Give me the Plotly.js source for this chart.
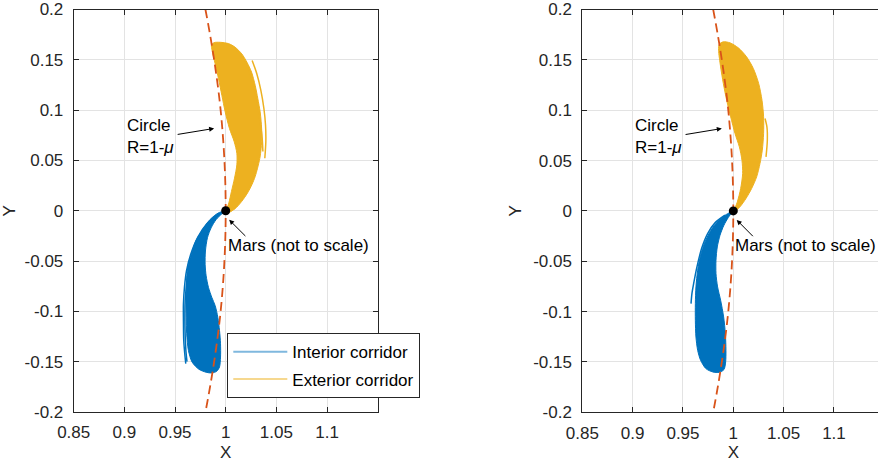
<!DOCTYPE html>
<html>
<head>
<meta charset="utf-8">
<script src="https://cdn.plot.ly/plotly-3.0.1.min.js"></script>
<style>
html, body { margin:0; padding:0; width:878px; height:467px; overflow:hidden; background:#fff; }
#plot { width:885px; height:467px; }
</style>
</head>
<body>
<div id="plot"></div>
<script>
// ---------- data ----------
// Left panel: interior corridor (blue) envelope
const intBodyX1 = [1.0004,0.9929,0.9846,0.9774,0.9705,0.9660,0.9625,0.9612,0.9608,0.9610,0.9615,0.9632,0.9668,0.9735,0.9807,0.9863,0.9912,0.9939,0.9949,0.9949,0.9939,0.9922,0.9896,0.9863,0.9830,0.9807,0.9797,0.9800,0.9820,0.9856,0.9906,0.9962,1.0004];
const intBodyY1 = [0.0002,-0.0021,-0.0087,-0.0186,-0.0301,-0.0433,-0.0565,-0.0729,-0.0894,-0.1058,-0.1223,-0.1388,-0.1503,-0.1575,-0.1605,-0.1612,-0.1595,-0.1552,-0.1454,-0.1322,-0.1190,-0.1058,-0.0943,-0.0861,-0.0762,-0.0647,-0.0532,-0.0400,-0.0268,-0.0170,-0.0087,-0.0031,0.0002];
// Left panel: interior stray trajectories
const intStrayX1 = [0.9912,0.9814,0.9725,0.9655,0.9613,0.9593,0.9583,0.9583,0.9586,0.9596,0.9606,null,0.9623,0.9600,0.9598,0.9607,0.9618];
const intStrayY1 = [-0.0044,-0.0130,-0.0262,-0.0433,-0.0598,-0.0762,-0.0927,-0.1091,-0.1289,-0.1421,-0.1519,null,-0.0650,-0.0894,-0.1157,-0.1388,-0.1500];
// Left panel: exterior corridor (yellow) envelope
const extBodyX1 = [1.0011,1.0093,1.0159,1.0215,1.0258,1.0291,1.0314,1.0337,1.0350,1.0357,1.0350,1.0340,1.0317,1.0291,1.0255,1.0209,1.0159,1.0093,1.0028,0.9945,0.9886,0.9860,0.9866,0.9896,0.9929,0.9962,0.9995,1.0037,1.0084,1.0110,1.0110,1.0087,1.0057,1.0031,1.0005,1.0011];
const extBodyY1 = [-0.0025,0.0021,0.0094,0.0176,0.0258,0.0341,0.0423,0.0522,0.0621,0.0752,0.0884,0.0983,0.1114,0.1246,0.1378,0.1477,0.1559,0.1625,0.1661,0.1674,0.1671,0.1648,0.1592,0.1460,0.1312,0.1147,0.0983,0.0818,0.0686,0.0571,0.0456,0.0324,0.0193,0.0077,-0.0005,-0.0025];
// Left panel: exterior stray trajectories
const extStrayX1 = [1.0192,1.0242,1.0284,1.0317,1.0340,1.0360,1.0367,null,1.0261,1.0307,1.0347,1.0377,1.0393,1.0396,1.0386];
const extStrayY1 = [0.1483,0.1361,0.1213,0.1049,0.0884,0.0719,0.0588,null,0.1493,0.1361,0.1197,0.1016,0.0851,0.0686,0.0522];

// Right panel: interior corridor envelope
const intBodyX2 = [1.0000,0.9934,0.9851,0.9778,0.9719,0.9675,0.9646,0.9629,0.9623,0.9623,0.9629,0.9646,0.9675,0.9728,0.9795,0.9861,0.9907,0.9924,0.9927,0.9921,0.9904,0.9874,0.9844,0.9828,0.9828,0.9841,0.9868,0.9907,0.9950,0.9983,1.0000];
const intBodyY2 = [0.0000,-0.0033,-0.0099,-0.0192,-0.0308,-0.0440,-0.0589,-0.0755,-0.0921,-0.1086,-0.1252,-0.1384,-0.1483,-0.1566,-0.1599,-0.1603,-0.1576,-0.1500,-0.1384,-0.1219,-0.1053,-0.0887,-0.0755,-0.0623,-0.0490,-0.0358,-0.0242,-0.0142,-0.0066,-0.0020,0.0000];
const intStrayX2 = [0.9917,0.9818,0.9745,0.9685,0.9639,0.9606,0.9589,0.9580];
const intStrayY2 = [-0.0043,-0.0119,-0.0225,-0.0374,-0.0556,-0.0722,-0.0821,-0.0921];
// Right panel: exterior corridor envelope
const extBodyX2 = [1.0007,1.0066,1.0126,1.0182,1.0232,1.0265,1.0288,1.0301,1.0301,1.0285,1.0252,1.0199,1.0132,1.0050,0.9967,0.9901,0.9861,0.9854,0.9874,0.9901,0.9934,0.9974,1.0017,1.0060,1.0086,1.0093,1.0073,1.0040,1.0007,1.0007];
const extBodyY2 = [-0.0017,0.0040,0.0123,0.0222,0.0338,0.0470,0.0603,0.0768,0.0934,0.1099,0.1265,0.1414,0.1530,0.1619,0.1669,0.1679,0.1656,0.1596,0.1430,0.1265,0.1099,0.0934,0.0768,0.0636,0.0503,0.0371,0.0222,0.0089,0.0000,-0.0017];
const extStrayX2 = [1.0315,1.0334,1.0338,1.0325];
const extStrayY2 = [0.0917,0.0834,0.0702,0.0536];

// Circle R = 1 - mu
const circleX = [0.968,0.980,0.995,1.000,0.995,0.980,0.968];
const circleY = [-0.25,-0.20,-0.10,0.00,0.10,0.20,0.25];
// Mars
const marsX = [1];
const marsY = [0];

// Axis ticks
const xTickVals = [0.85,0.9,0.95,1,1.05,1.1];
const xTickText = ['0.85','0.9','0.95','1','1.05','1.1'];
const yTickVals = [-0.2,-0.15,-0.1,-0.05,0,0.05,0.1,0.15,0.2];
const yTickText = ['-0.2','-0.15','-0.1','-0.05','0','0.05','0.1','0.15','0.2'];

// Legend labels
const seriesNames = ['Interior corridor','Exterior corridor'];

// Annotation anchors (data coords)
const circleLabel = {x:0.9024, y:0.0736, text:'Circle<br>R=1-<i>μ</i>'};
const circleArrow = {x:0.9886, y:0.0818, ax:0.9511, ay:0.0756};
const marsLabel = {x:1.0031, y:-0.0341, text:'Mars (not to scale)'};
const marsArrow = {x:1.0034, y:-0.0090, ax:1.0209, ay:-0.0266};

// ---------- styling ----------
const BLUE = '#0072BD', YELLOW = '#EDB120', RED = '#D95319';
const FONT = 'Liberation Sans, Arial, Helvetica, sans-serif';
const W = 885, H = 467;

function panel(xa, ya, ib, ibY, is, isY, eb, ebY, es, esY) {
  return [
    {x:ib, y:ibY, xaxis:xa, yaxis:ya, type:'scatter', mode:'lines', fill:'toself', fillcolor:BLUE,
     line:{color:BLUE, width:1, shape:'spline', smoothing:0.8}, showlegend:false, hoverinfo:'skip'},
    {x:is, y:isY, xaxis:xa, yaxis:ya, type:'scatter', mode:'lines',
     line:{color:BLUE, width:1.5, shape:'spline', smoothing:0.8}, showlegend:false, hoverinfo:'skip'},
    {x:eb, y:ebY, xaxis:xa, yaxis:ya, type:'scatter', mode:'lines', fill:'toself', fillcolor:YELLOW,
     line:{color:YELLOW, width:1, shape:'spline', smoothing:0.8}, showlegend:false, hoverinfo:'skip'},
    {x:es, y:esY, xaxis:xa, yaxis:ya, type:'scatter', mode:'lines',
     line:{color:YELLOW, width:1.5, shape:'spline', smoothing:0.8}, showlegend:false, hoverinfo:'skip'},
    {x:circleX, y:circleY, xaxis:xa, yaxis:ya, type:'scatter', mode:'lines',
     line:{color:RED, width:1.8, dash:'9px,5px', shape:'spline'}, showlegend:false, hoverinfo:'skip'},
    {x:marsX, y:marsY, xaxis:xa, yaxis:ya, type:'scatter', mode:'markers',
     marker:{color:'#000', size:9}, showlegend:false, hoverinfo:'skip'}
  ];
}

const data = [].concat(
  panel('x','y', intBodyX1,intBodyY1, intStrayX1,intStrayY1, extBodyX1,extBodyY1, extStrayX1,extStrayY1),
  panel('x2','y2', intBodyX2,intBodyY2, intStrayX2,intStrayY2, extBodyX2,extBodyY2, extStrayX2,extStrayY2),
  [
    {x:[null], y:[null], xaxis:'x', yaxis:'y', type:'scatter', mode:'lines', name:seriesNames[0],
     line:{color:'rgba(0,114,189,0.5)', width:2}, legendgroup:'a'},
    {x:[null], y:[null], xaxis:'x', yaxis:'y', type:'scatter', mode:'lines', name:seriesNames[1],
     line:{color:'rgba(237,177,32,0.5)', width:2}, legendgroup:'b'}
  ]
);

function xax(domain, anchor) {
  return {domain:domain, anchor:anchor, range:[0.85,1.15], tickmode:'array', tickvals:xTickVals, ticktext:xTickText,
    showgrid:true, gridcolor:'#e3e3e3', gridwidth:1, zeroline:false, showline:true, linecolor:'#262626', linewidth:1,
    mirror:'ticks', ticks:'inside', ticklen:5, tickcolor:'#262626', tickwidth:1, ticklabeloverflow:'allow',
    tickfont:{family:FONT, size:17, color:'#262626'}, ticklabelstandoff:5,
    title:{text:'X', font:{family:FONT, size:17, color:'#262626'}, standoff:4}, fixedrange:true};
}
function yax(domain, anchor) {
  return {domain:domain, anchor:anchor, range:[-0.2,0.2], tickmode:'array', tickvals:yTickVals, ticktext:yTickText,
    showgrid:true, gridcolor:'#e3e3e3', gridwidth:1, zeroline:false, showline:true, linecolor:'#262626', linewidth:1,
    mirror:'ticks', ticks:'inside', ticklen:5, tickcolor:'#262626', tickwidth:1, ticklabeloverflow:'allow',
    tickfont:{family:FONT, size:17, color:'#262626'}, ticklabelstandoff:6,
    title:{text:'Y', font:{family:FONT, size:17, color:'#262626'}, standoff:7}, fixedrange:true};
}

function annots(xr, yr) {
  return [
    {xref:xr, yref:yr, x:circleLabel.x, y:circleLabel.y, text:circleLabel.text, showarrow:false, xshift:-2,
     xanchor:'left', yanchor:'middle', align:'left', font:{family:FONT, size:17, color:'#000'}},
    {xref:xr, yref:yr, x:circleArrow.x, y:circleArrow.y, axref:xr, ayref:yr, ax:circleArrow.ax, ay:circleArrow.ay,
     text:'', showarrow:true, arrowhead:2, arrowsize:1, arrowwidth:1, arrowcolor:'#000'},
    {xref:xr, yref:yr, x:marsLabel.x, y:marsLabel.y, text:marsLabel.text, showarrow:false, xshift:-3,
     xanchor:'left', yanchor:'middle', align:'left', font:{family:FONT, size:17, color:'#000'}},
    {xref:xr, yref:yr, x:marsArrow.x, y:marsArrow.y, axref:xr, ayref:yr, ax:marsArrow.ax, ay:marsArrow.ay,
     text:'', showarrow:true, arrowhead:2, arrowsize:1, arrowwidth:1, arrowcolor:'#000'}
  ];
}

const layout = {
  width:W, height:H, margin:{l:0, r:0, t:0, b:0}, paper_bgcolor:'#fff', plot_bgcolor:'#fff',
  font:{family:FONT, size:17, color:'#262626'},
  xaxis: xax([73.7/W, 377.7/W], 'y'),
  yaxis: yax([(H-412)/H, (H-9.5)/H], 'x'),
  xaxis2: xax([582.3/W, 884.3/W], 'y2'),
  yaxis2: yax([(H-412.3)/H, (H-9.5)/H], 'x2'),
  showlegend:true,
  legend:{x:227.3/W, y:(H-333.3)/H, xanchor:'left', yanchor:'top', bgcolor:'#fff', bordercolor:'#262626', borderwidth:1,
    font:{family:FONT, size:17, color:'#000'}, traceorder:'grouped', tracegroupgap:2, itemwidth:54},
  annotations: annots('x','y').concat(annots('x2','y2'))
};

Plotly.newPlot('plot', data, layout, {displayModeBar:false, staticPlot:true});
</script>
</body>
</html>
